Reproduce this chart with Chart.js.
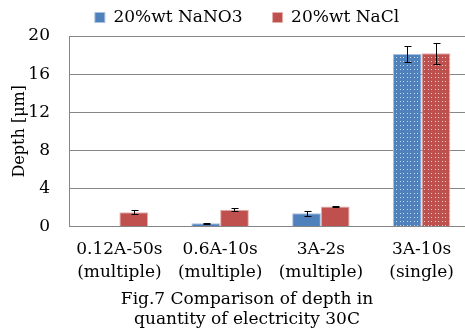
<!DOCTYPE html>
<html>
<head>
<meta charset="utf-8">
<script src="https://cdn.jsdelivr.net/npm/chart.js@4.4.1/dist/chart.umd.min.js"></script>
<style>
  html, body { margin: 0; padding: 0; background: #fff; }
  #wrap { width: 465px; height: 336px; overflow: hidden; }
</style>
</head>
<body>
<div id="wrap"><canvas id="chartDepth" width="480" height="336"></canvas></div>
<script>
// datos
const categorias = [
  ["0.12A-50s", "(multiple)"],
  ["0.6A-10s", "(multiple)"],
  ["3A-2s", "(multiple)"],
  ["3A-10s", "(single)"],
];
const nano3 = [0, 0.35, 1.4, 18.1];
const nano3Err = [0, 0.05, 0.25, 0.8];
const nacl = [1.5, 1.75, 2.1, 18.2];
const naclErr = [0.22, 0.15, 0.04, 1.1];
const yTicks = [0, 4, 8, 12, 16, 20];

const AZUL = "#4F81BD";
const ROJO = "#C0504D";
const FUENTE = "DejaVu Serif";

// patron punteado para la barra "single"
function punteado(color) {
  const c = document.createElement("canvas");
  c.width = 7; c.height = 4;
  const g = c.getContext("2d");
  g.fillStyle = color;
  g.fillRect(0, 0, 7, 4);
  g.fillStyle = "rgba(255,255,255,0.7)";
  g.fillRect(1, 1, 1, 1);
  g.fillRect(4, 1, 1, 1);
  return g.createPattern(c, "repeat");
}

const errorBars = {
  id: "errorBars",
  afterDatasetsDraw(chart) {
    const { ctx } = chart;
    const y = chart.scales.y;
    chart.data.datasets.forEach((ds, di) => {
      const meta = chart.getDatasetMeta(di);
      meta.data.forEach((bar, i) => {
        const e = ds.errores[i];
        if (!e) return;
        const v = ds.data[i];
        const yt = Math.round(y.getPixelForValue(v + e)) + 0.5;
        const yb = Math.round(y.getPixelForValue(v - e)) + 0.5;
        const x = Math.round(bar.x) + 0.5;
        ctx.save();
        ctx.strokeStyle = "#000";
        ctx.lineWidth = 1;
        ctx.beginPath();
        ctx.moveTo(x, yt); ctx.lineTo(x, yb);
        ctx.moveTo(x - 3, yt); ctx.lineTo(x + 4, yt);
        ctx.moveTo(x - 3, yb); ctx.lineTo(x + 4, yb);
        ctx.stroke();
        ctx.restore();
      });
    });
  },
};

const canvas = document.getElementById("chartDepth");
const ctx = canvas.getContext("2d");

new Chart(ctx, {
  type: "bar",
  data: {
    labels: categorias,
    datasets: [
      {
        label: "20%wt NaNO3",
        data: nano3,
        errores: nano3Err,
        backgroundColor: nano3.map((_, i) => (i === 3 ? punteado(AZUL) : AZUL)),
        borderColor: "#A9C0DE",
        borderWidth: 1,
        categoryPercentage: 0.57,
        barPercentage: 1,
      },
      {
        label: "20%wt NaCl",
        data: nacl,
        errores: naclErr,
        backgroundColor: nacl.map((_, i) => (i === 3 ? punteado(ROJO) : ROJO)),
        borderColor: "#E3AFAE",
        borderWidth: 1,
        categoryPercentage: 0.57,
        barPercentage: 1,
      },
    ],
  },
  options: {
    responsive: false,
    animation: false,
    events: [],
    layout: { padding: { left: 22, right: 8, top: -21, bottom: 0 } },
    scales: {
      x: {
        afterFit: (s) => { s.height = 58; },
        grid: { display: false, drawTicks: false },
        border: { display: true, color: "#868686", width: 1 },
        ticks: {
          color: "#000",
          padding: 12,
          font: { family: FUENTE, size: 17, lineHeight: 1.35 },
          maxRotation: 0,
          autoSkip: false,
        },
      },
      y: {
        min: 0,
        max: 20,
        afterFit: (s) => { s.width = 47; },
        afterBuildTicks: (s) => { s.ticks = yTicks.map((v) => ({ value: v })); },
        grid: { color: "#868686", drawTicks: false },
        border: { display: true, color: "#868686", width: 1 },
        ticks: {
          color: "#000",
          padding: 19,
          font: { family: FUENTE, size: 17 },
        },
        title: {
          display: true,
          text: "Depth [μm]",
          color: "#000",
          padding: { top: -11.5, bottom: 0 },
          font: { family: FUENTE, size: 16 },
        },
      },
    },
    plugins: {
      legend: {
        position: "top",
        labels: {
          color: "#000",
          boxWidth: 10,
          boxHeight: 10,
          padding: 30,
          font: { family: FUENTE, size: 17 },
        },
      },
      title: {
        display: true,
        position: "bottom",
        text: ["Fig.7 Comparison of depth in", "quantity of electricity 30C"],
        color: "#000",
        padding: { top: 5.5, bottom: 6 },
        font: { family: FUENTE, size: 17, weight: "normal", lineHeight: "20px" },
      },
      tooltip: { enabled: false },
    },
  },
  plugins: [errorBars],
});
</script>
</body>
</html>
